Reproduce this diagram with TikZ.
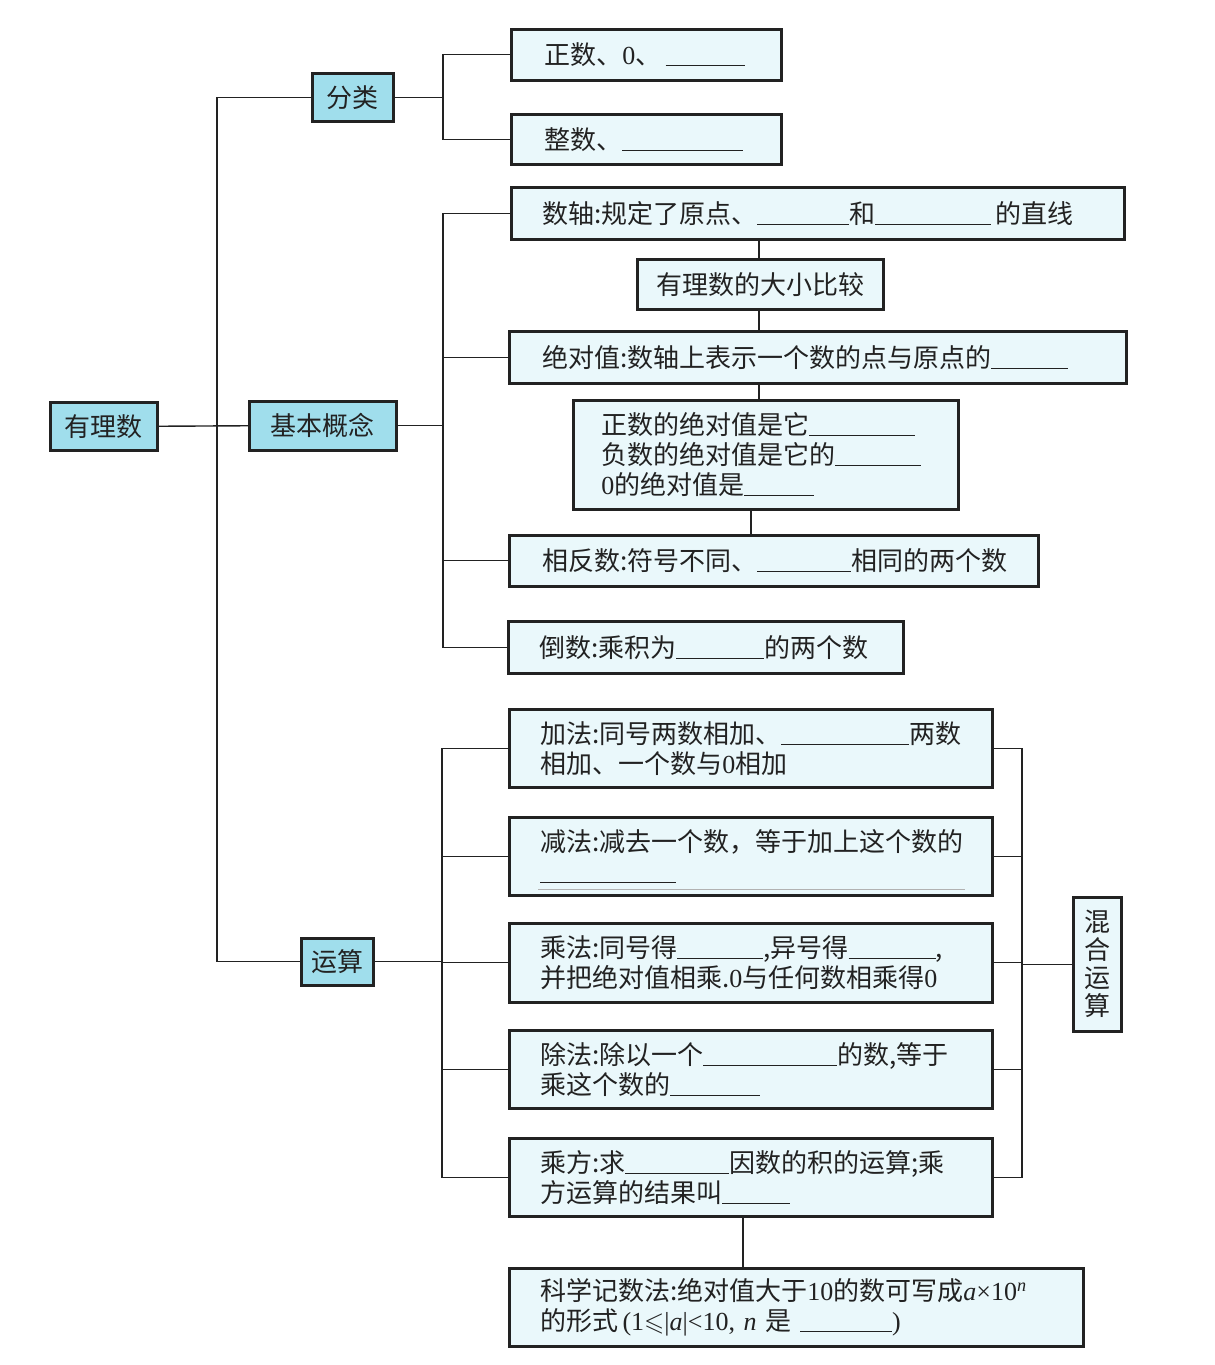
\documentclass[tikz,border=0pt]{standalone}
\usepackage{fontspec}
\usepackage{amssymb}
\setmainfont{Noto Sans CJK SC}
\newfontfamily\lat{Liberation Serif}
\newcommand\blank[1]{\rule[-1.5pt]{#1pt}{1.1pt}}
\newcommand\Nm[1]{{\lat #1}}
\definecolor{mainfill}{HTML}{A0DEEC}
\definecolor{lightfill}{HTML}{EAF8FB}
\definecolor{ink}{HTML}{222222}
\tikzset{
  every node/.style={font=\fontsize{26pt}{30pt}\selectfont, text=ink},
  mainbox/.style n args={2}{draw=ink, line width=2.5pt, fill=mainfill, inner sep=0pt,
    anchor=north west, minimum width=#1pt, minimum height=#2pt},
  ibox/.style n args={4}{draw=ink, line width=2.5pt, fill=lightfill, anchor=north west,
    inner ysep=0pt, align=left, minimum width=#1pt, minimum height=#2pt,
    inner xsep=#3pt, text width=#4pt},
  cbox/.style n args={2}{draw=ink, line width=2.5pt, fill=lightfill, anchor=north west,
    inner sep=0pt, align=center, minimum width=#1pt, minimum height=#2pt},
  conn/.style={draw=ink, line width=1.4pt},
}
\begin{document}
\begin{tikzpicture}[x=1pt,y=-1pt]
\fill[white] (0,0) rectangle (1215,1365);
\useasboundingbox (0,0) rectangle (1215,1365);

% main nodes
\node[mainbox={107}{48}] (root) at (49,401) {有理数};
\node[mainbox={81}{48}] (fenlei) at (311,72) {分类};
\node[mainbox={147}{49}] (jiben) at (248,400) {基本概念};
\node[mainbox={72}{47}] (yunsuan) at (300,937) {运算};

% classification
\node[ibox={270}{51}{33}{204}] (zs1) at (510,28) {正数、\Nm{0}、\,\blank{79}};
\node[ibox={270}{50}{33}{204}] (zs2) at (510,113) {整数、\blank{121}};

% basic concepts
\node[ibox={613}{52}{31}{551}] (shuzhou) at (510,186) {数轴:规定了原点、\blank{92}和\blank{116}\,的直线};
\node[cbox={246}{50}] (bx) at (636,258) {有理数的大小比较};
\node[ibox={617}{52}{33}{551}] (jdz) at (508,330) {绝对值:数轴上表示一个数的点与原点的\blank{77}};
\node[ibox={385}{109}{28}{329}] (three) at (572,399) {正数的绝对值是它\blank{106}\\负数的绝对值是它的\blank{86}\\\Nm{0}的绝对值是\blank{70}};
\node[ibox={529}{51}{33}{463}] (xfs) at (508,534) {相反数:符号不同、\blank{94}相同的两个数};
\node[ibox={395}{52}{31}{333}] (ds) at (507,620) {倒数:乘积为\blank{88}的两个数};

% operations
\node[ibox={483}{78}{31}{421}] (jf) at (508,708) {加法:同号两数相加、\blank{128}两数\\相加、一个数与\Nm{0}相加};
\node[ibox={483}{78}{31}{421}] (jianf) at (508,816) {减法:减去一个数，等于加上这个数的\\\blank{136}};
\node[ibox={483}{79}{31}{421}] (chf) at (508,922) {乘法:同号得\blank{86},异号得\blank{87},\\并把绝对值相乘.\Nm{0}与任何数相乘得\Nm{0}};
\node[ibox={483}{78}{31}{421}] (chuf) at (508,1029) {除法:除以一个\blank{134}的数,等于\\乘这个数的\blank{90}};
\node[ibox={483}{78}{31}{421}] (chfang) at (508,1137) {乘方:求\blank{104}因数的积的运算;乘\\方运算的结果叫\blank{68}};
\node[ibox={574}{78}{31}{512}] (kx) at (508,1267) {科学记数法:绝对值大于\Nm{10}的数可写成{\lat\itshape a}{\lat ×10}\textsuperscript{\lat\itshape n}\\的形式\,{\lat (1}$\leqslant${\lat |\itshape a\/\upshape|<10, \itshape n} 是 \blank{92}{\lat )}};
\node[cbox={48}{134}, font=\fontsize{26pt}{28pt}\selectfont] (hh) at (1072,896) {混\\合\\运\\算};

% faint rule inside subtraction box
\draw[black!30, line width=0.8pt] (538,889) -- (965,889);

% coordinates for branch lines
\coordinate (tr) at (217,0);
\coordinate (fa) at (443,0);
\coordinate (ol) at (442,0);
\coordinate (or) at (1022,0);
\coordinate (v1) at (759,0);
\coordinate (v2) at (751,0);
\coordinate (v3) at (743,0);

% trunk
\draw[conn] (fenlei.west) -- (fenlei.west -| tr) -- (yunsuan.west -| tr) -- (yunsuan.west);
\draw[conn] (root.east) -- (jiben.west);

% classification branch
\draw[conn] (fenlei.east) -- (fenlei.east -| fa);
\draw[conn] (zs1.west) -- (zs1.west -| fa) -- (zs2.west -| fa) -- (zs2.west);

% basic concepts branch
\draw[conn] (jiben.east) -- (jiben.east -| fa);
\draw[conn] (shuzhou.west) -- (shuzhou.west -| fa) -- (ds.west -| fa) -- (ds.west);
\draw[conn] (jdz.west) -- (jdz.west -| fa);
\draw[conn] (xfs.west) -- (xfs.west -| fa);
\draw[conn] (shuzhou.south -| v1) -- (bx.north -| v1);
\draw[conn] (bx.south -| v1) -- (jdz.north -| v1);
\draw[conn] (jdz.south -| v1) -- (three.north -| v1);
\draw[conn] (three.south -| v2) -- (xfs.north -| v2);

% operations branch
\draw[conn] (yunsuan.east) -- (yunsuan.east -| ol);
\draw[conn] (jf.west) -- (jf.west -| ol) -- (chfang.west -| ol) -- (chfang.west);
\draw[conn] (jianf.west) -- (jianf.west -| ol);
\draw[conn] (chf.west) -- (chf.west -| ol);
\draw[conn] (chuf.west) -- (chuf.west -| ol);
\draw[conn] (jf.east) -- (jf.east -| or) -- (chfang.east -| or) -- (chfang.east);
\draw[conn] (jianf.east) -- (jianf.east -| or);
\draw[conn] (chf.east) -- (chf.east -| or);
\draw[conn] (chuf.east) -- (chuf.east -| or);
\draw[conn] (hh.west) -- (hh.west -| or);
\draw[conn] (chfang.south -| v3) -- (kx.north -| v3);
\end{tikzpicture}
\end{document}
